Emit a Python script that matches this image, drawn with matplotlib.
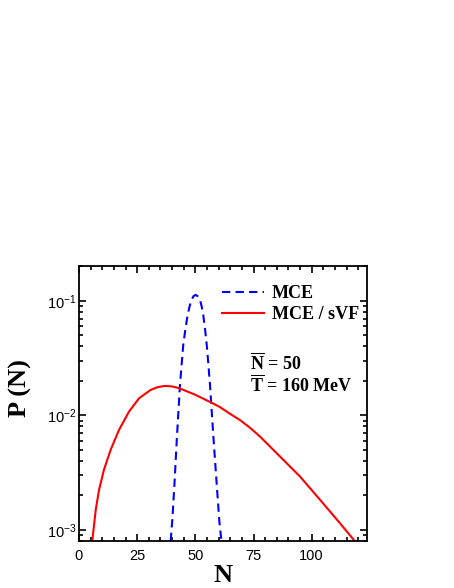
import numpy as np
import matplotlib
matplotlib.use("Agg")
import matplotlib.pyplot as plt
from matplotlib.ticker import MultipleLocator, LogLocator, NullFormatter

plt.rcParams["font.family"] = ["Liberation Sans", "DejaVu Sans"]
plt.rcParams["mathtext.fontset"] = "custom"
plt.rcParams["mathtext.rm"] = "Liberation Serif"
plt.rcParams["mathtext.bf"] = "Liberation Serif:bold"

# MCE (blue dashed)
n_mce = [39.4, 40.2, 41.0, 42.0, 43.4, 44.8, 45.8, 46.7, 47.6, 48.4, 49.2, 50.1,
         51.0, 52.0, 52.7, 53.4, 54.2, 54.9, 55.6, 56.3, 57.7, 59.2, 60.3, 61.2]
p_mce = [8.0e-4, 1.3e-3, 2.47e-3, 6.0e-3, 0.01845, 0.0413, 0.058, 0.0755, 0.091, 0.102,
         0.110, 0.113, 0.110, 0.102, 0.090, 0.0755, 0.056, 0.0413, 0.028, 0.01845,
         6.76e-3, 2.47e-3, 1.2e-3, 8.0e-4]

# MCE / sVF (red solid)
n_svf = [5.7, 7.2, 8.6, 10.7, 13.6, 17.2, 21.5, 25.8, 30.8, 34.0, 37.0, 40.0, 43.0,
         50.1, 57.3, 60.6, 64.5, 69.2, 73.5, 77.8, 86.4, 95.0, 103.6, 112.2, 118.7]
p_svf = [8.0e-4, 1.50e-3, 2.23e-3, 3.34e-3, 5.0e-3, 7.47e-3, 0.0108, 0.0141, 0.0167,
         0.0177, 0.0181, 0.0179, 0.0173, 0.0151, 0.0128, 0.0118, 0.01045, 9.1e-3, 7.8e-3,
         6.53e-3, 4.37e-3, 2.92e-3, 1.83e-3, 1.14e-3, 7.9e-4]

fig = plt.figure(figsize=(4.54, 5.88), dpi=100)
ax = fig.add_axes([0.174, 0.080, 0.634, 0.4677])

ax.plot(n_mce, p_mce, color="blue", lw=1.5, dashes=(4, 2.5), label="MCE")
ax.plot(n_svf, p_svf, color="red", lw=1.5, label="MCE / sVF")

ax.set_yscale("log")
ax.set_xlim(0, 123.7)
ax.set_ylim(8.0e-4, 0.202)

ax.xaxis.set_major_locator(MultipleLocator(25))
ax.xaxis.set_minor_locator(MultipleLocator(5))
ax.yaxis.set_major_locator(LogLocator(base=10))
ax.yaxis.set_minor_locator(LogLocator(base=10, subs=np.arange(2, 10)))
ax.yaxis.set_minor_formatter(NullFormatter())

ax.tick_params(which="both", direction="in", top=True, right=True, labelsize=10.5, width=1.2)
ax.tick_params(which="major", length=5)
ax.tick_params(which="minor", length=3)
ax.tick_params(axis="x", pad=6)
ax.tick_params(axis="y", pad=2)
for s in ax.spines.values():
    s.set_linewidth(1.3)

ax.set_xlabel("N", family="Liberation Serif", weight="bold", fontsize=19, labelpad=0.5)
ax.set_ylabel("P (N)", family="Liberation Serif", weight="bold", fontsize=19)
ax.yaxis.set_label_coords(-0.164, 0.556)

leg = ax.legend(loc="upper left", bbox_to_anchor=(0.442, 0.99), frameon=False,
                handlelength=2.3, handletextpad=0.45, labelspacing=0.25,
                prop={"family": "Liberation Serif", "weight": "bold", "size": 13})

ax.text(0.595, 0.62, r"$\mathbf{\overline{N}}$ = 50", transform=ax.transAxes,
        family="Liberation Serif", weight="bold", fontsize=13)
ax.text(0.595, 0.54, r"$\mathbf{\overline{T}}$ = 160 MeV", transform=ax.transAxes,
        family="Liberation Serif", weight="bold", fontsize=13)

fig.savefig("out.png", dpi=100)
